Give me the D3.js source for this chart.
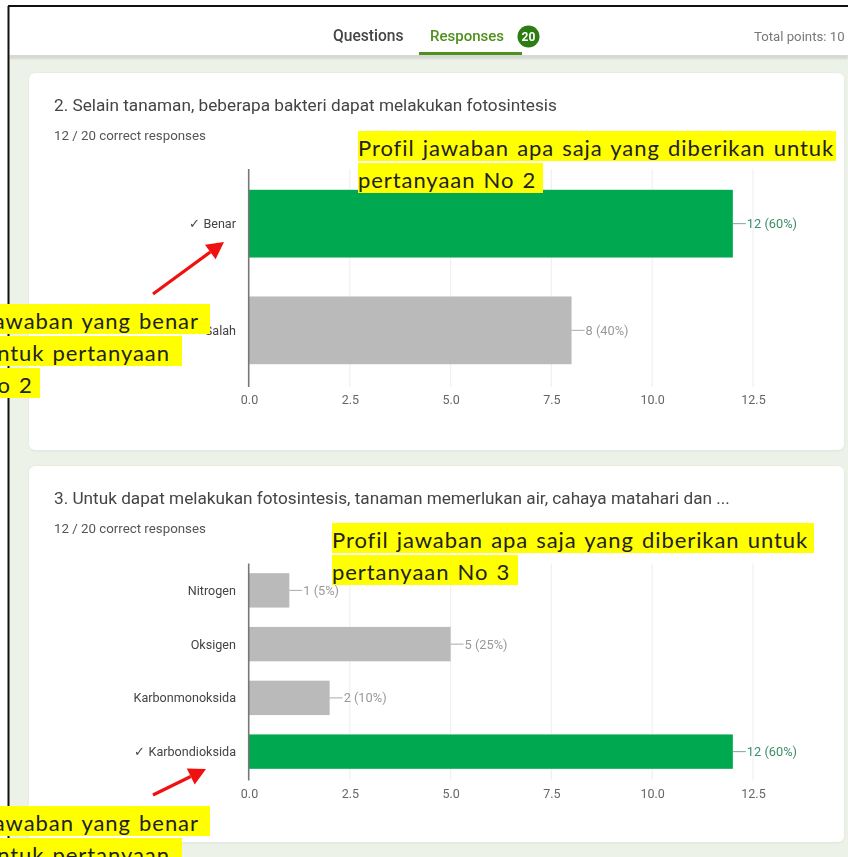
<!DOCTYPE html>
<html><head><meta charset="utf-8">
<script src="https://cdn.jsdelivr.net/npm/d3@7"></script>
<style>html,body{margin:0;padding:0;background:#fff;overflow:hidden}svg{display:block}</style>
</head><body><svg id="c" width="848" height="857"></svg>
<script>
const q2Categories = ["Benar", "Salah"];
const q2Values = [12, 8];
const q2Percent = ["60%", "40%"];
const q2Correct = ["Benar"];
const q3Categories = ["Nitrogen", "Oksigen", "Karbonmonoksida", "Karbondioksida"];
const q3Values = [1, 5, 2, 12];
const q3Percent = ["5%", "25%", "10%", "60%"];
const q3Correct = ["Karbondioksida"];
const xTicks = [0, 2.5, 5, 7.5, 10, 12.5];

const svg = d3.select("#c");
const UI = "Roboto, sans-serif";
const NOTE = "Lato, sans-serif";
const defs = svg.append("defs");
defs.append("filter").attr("id","soft").attr("x","-5%").attr("y","-20%").attr("width","110%").attr("height","140%")
  .append("feGaussianBlur").attr("stdDeviation",0.45);
defs.append("filter").attr("id","shadow").attr("x","-2%").attr("y","-2%").attr("width","104%").attr("height","104%")
  .append("feGaussianBlur").attr("stdDeviation",1.2);
svg.append("rect").attr("width",848).attr("height",857).attr("fill","#fff");
svg.append("rect").attr("x",9).attr("y",6).attr("width",839).attr("height",851).attr("fill","#edf2e8");
svg.append("rect").attr("x",9).attr("y",54).attr("width",839).attr("height",5).attr("fill","#d5d8d3").attr("filter","url(#shadow)");
svg.append("rect").attr("x",9).attr("y",7).attr("width",839).attr("height",48).attr("fill","#fff");
svg.append("line").attr("x1",8).attr("x2",848).attr("y1",6).attr("y2",6).attr("stroke","#111").attr("stroke-width",2);
svg.append("line").attr("x1",8.5).attr("x2",8.5).attr("y1",6).attr("y2",857).attr("stroke","#111").attr("stroke-width",2);

function txt(x,y,s,o={}){
  return svg.append("text").attr("x",x).attr("y",y).text(s)
    .attr("font-family",o.f||UI).attr("font-size",o.s||12).attr("fill",o.c||"#555")
    .attr("font-weight",o.w||400).attr("text-anchor",o.a||"start")
    .attr("filter","url(#soft)");
}
txt(333,41,"Questions",{s:15.6,c:"#444",w:500});
txt(430,41,"Responses",{s:15,c:"#4f8f1f",w:500});
svg.append("circle").attr("cx",528.5).attr("cy",36.5).attr("r",11).attr("fill","#2e7d14");
txt(528.5,41,"20",{s:12,c:"#fff",w:700,a:"middle"});
svg.append("rect").attr("x",419).attr("y",52).attr("width",103).attr("height",3).attr("fill","#4f8f1f");
txt(754,41,"Total points: 10",{s:13.2,c:"#777"});

function chart(cfg){
  svg.append("rect").attr("x",29).attr("y",cfg.card[0]).attr("width",815).attr("height",cfg.card[1]-cfg.card[0]+1).attr("rx",6).attr("fill","#dfe3dc").attr("filter","url(#shadow)");
  svg.append("rect").attr("x",29).attr("y",cfg.card[0]).attr("width",815).attr("height",cfg.card[1]-cfg.card[0]).attr("rx",6).attr("fill","#fff");
  txt(54,cfg.titleY,cfg.title,{s:17.2,c:"#444"});
  txt(54,cfg.titleY+29,"12 / 20 correct responses",{s:13.3,c:"#555"});
  const x = d3.scaleLinear().domain([0,12.5]).range([249,753]);
  const y = d3.scaleBand().domain(cfg.cats).range(cfg.range).paddingInner(cfg.pi).paddingOuter(cfg.po);
  const g = svg.append("g");
  g.selectAll("line.grid").data(xTicks.slice(1)).join("line").attr("class","grid")
    .attr("x1",d=>x(d)).attr("x2",d=>x(d)).attr("y1",cfg.range[0]).attr("y2",cfg.range[1]+2)
    .attr("stroke","#f0f0f0").attr("stroke-width",1.2);
  g.selectAll("rect.b").data(cfg.cats).join("rect").attr("class","b")
    .attr("x",x(0)).attr("y",d=>y(d)).attr("height",y.bandwidth())
    .attr("width",(d,i)=>x(cfg.vals[i])-x(0))
    .attr("fill",d=>cfg.correct.includes(d)?"#00a850":"#bababa");
  cfg.cats.forEach((d,i)=>{
    const ok = cfg.correct.includes(d), ym=y(d)+y.bandwidth()/2, xe=x(cfg.vals[i]);
    g.append("line").attr("x1",xe).attr("x2",xe+13).attr("y1",ym).attr("y2",ym).attr("stroke",ok?"#6fae90":"#aaa");
    txt(xe+14,ym+4.5,`${cfg.vals[i]} (${cfg.pct[i]})`,{s:12.8,c:ok?"#3c8f68":"#999",w:400});
    txt(236,ym+4.5,(ok?"\u2713 ":"")+d,{s:12.6,c:"#444",a:"end"});
  });
  const ax = d3.axisBottom(x).tickValues(xTicks).tickFormat(d3.format(".1f")).tickSize(0).tickPadding(0);
  const ag = svg.append("g").attr("transform",`translate(0,${cfg.range[1]})`).call(ax);
  ag.select(".domain").remove();
  ag.selectAll("text").attr("font-family",UI).attr("font-size",12.5).attr("fill","#666").attr("dy",0).attr("y",cfg.tickDy).attr("filter","url(#soft)");
  svg.append("line").attr("x1",x(0)-.3).attr("x2",x(0)-.3).attr("y1",cfg.range[0]).attr("y2",cfg.range[1]+2).attr("stroke","#777").attr("stroke-width",1.6);
}
chart({card:[73,450],titleY:111,title:"2. Selain tanaman, beberapa bakteri dapat melakukan fotosintesis",
  cats:q2Categories,vals:q2Values,pct:q2Percent,correct:q2Correct,range:[169,385],pi:.365,po:.195,tickDy:19});
chart({card:[466,842],titleY:504,title:"3. Untuk dapat melakukan fotosintesis, tanaman memerlukan air, cahaya matahari dan ...",
  cats:q3Categories,vals:q3Values,pct:q3Percent,correct:q3Correct,range:[563.5,778.5],pi:.36,po:.18,tickDy:19});

function note(lines){
  lines.forEach(l=>{
    svg.append("rect").attr("x",l[0]).attr("y",l[1]).attr("width",l[2]).attr("height",l[3]).attr("fill","#ffff00");
    svg.append("text").attr("x",l[5]).attr("y",l[1]+l[3]-5.5).text(l[4]).attr("font-family",NOTE).attr("font-size",22).attr("fill","#222").style("letter-spacing","0.93px").style("word-spacing","1.6px");
  });
}
note([[358,131,478,30,"Profil jawaban apa saja yang diberikan untuk",358],[358,163,185,30,"pertanyaan No 2",358],
 [332,523,482,30,"Profil jawaban apa saja yang diberikan untuk",332],[332,555,186,30,"pertanyaan No 3",332],
 [0,304,210,30,"Jawaban yang benar",-16],[0,336,182,30,"untuk pertanyaan",-16],[0,368,40,30,"No 2",-20],
 [0,806,210,30,"Jawaban yang benar",-16],[0,838,182,30,"untuk pertanyaan",-16]]);

function arrow(x1,y1,x2,y2){
  const a=Math.atan2(y2-y1,x2-x1),L=17,W=9;
  const bx=x2-L*Math.cos(a),by=y2-L*Math.sin(a);
  svg.append("line").attr("x1",x1).attr("y1",y1).attr("x2",bx).attr("y2",by).attr("stroke","#f01010").attr("stroke-width",3.2);
  svg.append("path").attr("fill","#f01010").attr("d",`M${x2},${y2}L${bx-W*Math.sin(a)},${by+W*Math.cos(a)}L${bx+W*Math.sin(a)},${by-W*Math.cos(a)}Z`);
}
arrow(153,294,224,242);
arrow(153,795,206,769);
</script></body></html>
